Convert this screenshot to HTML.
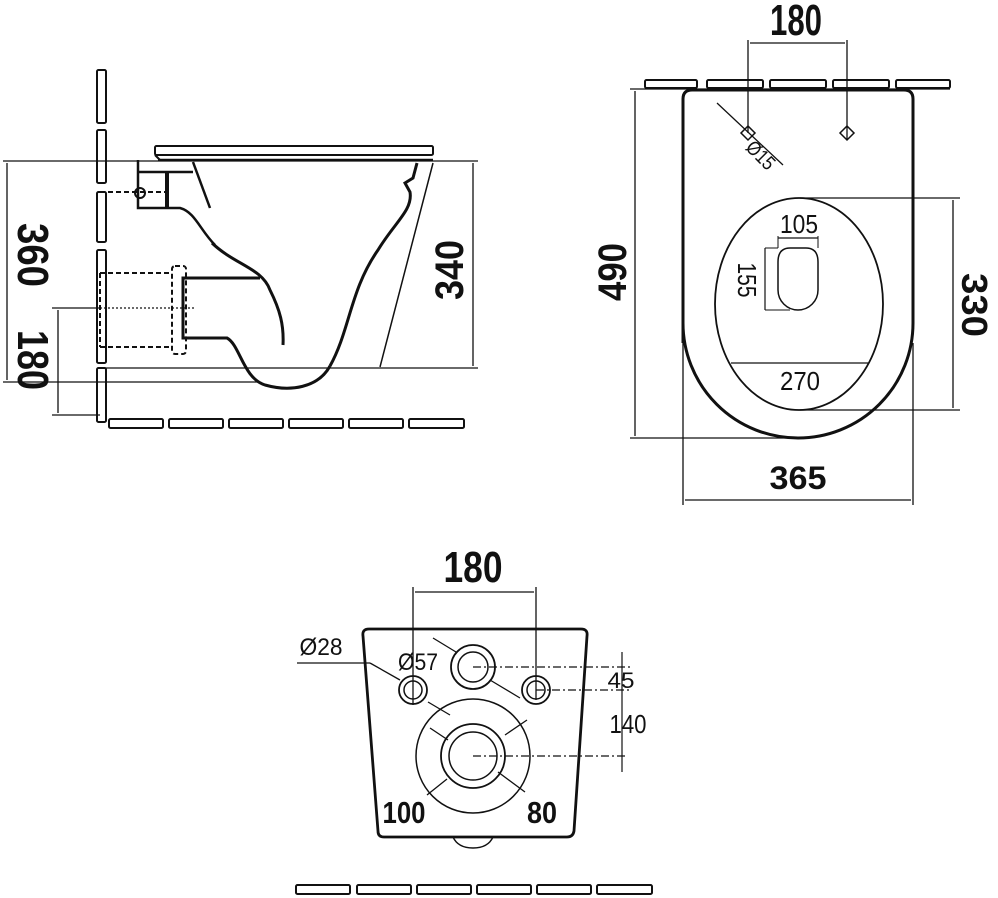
<!DOCTYPE html>
<html><head><meta charset="utf-8"><style>
html,body{margin:0;padding:0;background:#fff;}
svg{display:block}
text{font-family:"Liberation Sans Narrow","Liberation Sans",sans-serif;fill:#111;}
</style></head><body>
<svg width="998" height="898" viewBox="0 0 998 898" xmlns="http://www.w3.org/2000/svg">
<g fill="none" stroke="#111" stroke-width="2">
<!-- LEFT VIEW -->
<!-- wall segments -->
<rect x="97" y="70" width="9" height="53" rx="1.5"/>
<rect x="97" y="130" width="9" height="53" rx="1.5"/>
<rect x="97" y="192" width="9" height="50" rx="1.5"/>
<rect x="97" y="250" width="9" height="113" rx="1.5"/>
<rect x="97" y="368" width="9" height="54" rx="1.5"/>
<!-- floor bricks -->
<rect x="109" y="419" width="54" height="9" rx="1.5"/>
<rect x="169" y="419" width="54" height="9" rx="1.5"/>
<rect x="229" y="419" width="54" height="9" rx="1.5"/>
<rect x="289" y="419" width="54" height="9" rx="1.5"/>
<rect x="349" y="419" width="54" height="9" rx="1.5"/>
<rect x="409" y="419" width="55" height="9" rx="1.5"/>
<!-- seat -->
<rect x="155" y="146" width="278" height="9" rx="1.5"/>
<line x1="158" y1="160" x2="433" y2="160" stroke-width="2.5"/>
<line x1="155" y1="155" x2="160" y2="160"/>
<!-- dimension lines -->
<line x1="3" y1="161" x2="478" y2="161" stroke-width="1.3"/>
<line x1="100" y1="368" x2="478" y2="368" stroke-width="1.3"/>
<line x1="3" y1="382" x2="258" y2="382" stroke-width="1.3"/>
<line x1="7" y1="163" x2="7" y2="380" stroke-width="1.3"/>
<line x1="473" y1="163" x2="473" y2="366" stroke-width="1.3"/>
<line x1="52" y1="308" x2="100" y2="308" stroke-width="1.3"/>
<line x1="52" y1="415" x2="100" y2="415" stroke-width="1.3"/>
<line x1="58" y1="310" x2="58" y2="413" stroke-width="1.3"/>
<line x1="100" y1="308" x2="195" y2="308" stroke-width="1.3" stroke-dasharray="2 2"/>
<!-- top piece -->
<path d="M138 160 V208 H180 C195 212 200 230 215 245" stroke-width="2.5"/>
<line x1="138" y1="172" x2="193" y2="172" stroke-width="2.5"/>
<line x1="167" y1="172" x2="167" y2="208" stroke-width="4"/>
<line x1="193" y1="162" x2="210" y2="208" stroke-width="2.5"/>
<line x1="100" y1="192" x2="165" y2="192" stroke-dasharray="5 3"/>
<circle cx="140" cy="193" r="5"/>
<!-- S curve -->
<path d="M212 243 C235 265 262 268 270 290 C280 310 284 325 283 345" stroke-width="3"/>
<!-- outlet -->
<path d="M260 278 H183 V338 H227 C240 345 243 378 265 385 C290 392 318 388 330 366" stroke-width="3"/>
<path d="M330 366 C350 330 350 290 378 250 C395 222 413 210 410 192 L405 183 L413 178 L417 163" stroke-width="3"/>
<line x1="433" y1="163" x2="380" y2="367" stroke-width="1.5"/>
<!-- dashed -->
<path d="M100 273 H172 M100 347 H172 M100 273 V347" stroke-dasharray="5 3"/>
<rect x="172" y="266" width="14" height="88" rx="3" stroke-dasharray="5 3"/>
<!-- TOP VIEW -->
<rect x="645" y="80" width="52" height="8" rx="1.5"/>
<rect x="707" y="80" width="56" height="8" rx="1.5"/>
<rect x="770" y="80" width="56" height="8" rx="1.5"/>
<rect x="833" y="80" width="56" height="8" rx="1.5"/>
<rect x="896" y="80" width="54" height="8" rx="1.5"/>
<line x1="630" y1="89" x2="950" y2="89" stroke-width="1.3"/>
<path d="M683 343 V99 Q683 90 692 90 H904 Q913 90 913 99 V323 A115 115 0 0 1 683 323" stroke-width="3"/>
<line x1="635" y1="91" x2="635" y2="436" stroke-width="1.3"/>
<line x1="630" y1="438" x2="800" y2="438" stroke-width="1.3"/>
<line x1="683" y1="343" x2="683" y2="505" stroke-width="1.3"/>
<line x1="913" y1="343" x2="913" y2="505" stroke-width="1.3"/>
<line x1="685" y1="500" x2="911" y2="500" stroke-width="1.3"/>
<line x1="748" y1="40" x2="748" y2="133" stroke-width="1.3"/>
<line x1="847" y1="40" x2="847" y2="140" stroke-width="1.3"/>
<line x1="750" y1="43" x2="845" y2="43" stroke-width="1.3"/>
<path d="M748 126 L755 133 L748 140 L741 133 Z M847 126 L854 133 L847 140 L840 133 Z" stroke-width="1.5"/>
<line x1="717" y1="103" x2="783" y2="165" stroke-width="1.3"/>
<ellipse cx="799" cy="304" rx="84" ry="106" stroke-width="1.8"/>
<line x1="800" y1="198" x2="960" y2="198" stroke-width="1.3"/>
<line x1="800" y1="410" x2="960" y2="410" stroke-width="1.3"/>
<line x1="953" y1="200" x2="953" y2="408" stroke-width="1.3"/>
<path d="M778 262 Q778 248 790 248 H806 Q818 248 818 262 V290 A20 20 0 0 1 778 290 Z" stroke-width="1.5"/>
<line x1="778" y1="238" x2="818" y2="238" stroke-width="1.2"/>
<line x1="778" y1="236" x2="778" y2="248" stroke-width="1"/>
<line x1="818" y1="236" x2="818" y2="248" stroke-width="1"/>
<line x1="765" y1="248" x2="765" y2="310" stroke-width="1.2"/>
<line x1="765" y1="248" x2="778" y2="248" stroke-width="1"/>
<line x1="765" y1="310" x2="790" y2="310" stroke-width="1"/>
<line x1="731" y1="363" x2="868" y2="363" stroke-width="1.3"/>
<!-- BOTTOM VIEW -->
<path d="M369 629 H581 Q588 629 587 636 L574 831 Q573 837 567 837 H384 Q378 837 378 831 L363 636 Q362 629 369 629 Z" stroke-width="2.8"/>
<path d="M453 837 Q458 848 473 848 Q488 848 493 837" stroke-width="1.5"/>
<rect x="296" y="885" width="54" height="9" rx="1.5"/>
<rect x="357" y="885" width="54" height="9" rx="1.5"/>
<rect x="417" y="885" width="54" height="9" rx="1.5"/>
<rect x="477" y="885" width="54" height="9" rx="1.5"/>
<rect x="537" y="885" width="54" height="9" rx="1.5"/>
<rect x="597" y="885" width="55" height="9" rx="1.5"/>
<line x1="413" y1="587" x2="413" y2="705" stroke-width="1.3"/>
<line x1="536" y1="587" x2="536" y2="700" stroke-width="1.3"/>
<line x1="415" y1="592" x2="534" y2="592" stroke-width="1.3"/>
<circle cx="413" cy="690" r="14" stroke-width="1.8"/><circle cx="413" cy="690" r="9" stroke-width="1.5"/>
<circle cx="536" cy="690" r="14" stroke-width="1.8"/><circle cx="536" cy="690" r="9" stroke-width="1.5"/>
<circle cx="473" cy="667" r="22" stroke-width="1.8"/><circle cx="473" cy="667" r="15" stroke-width="1.5"/>
<circle cx="473" cy="756" r="57" stroke-width="1.5"/>
<circle cx="473" cy="756" r="32" stroke-width="1.8"/><circle cx="473" cy="756" r="24" stroke-width="1.5"/>
<g stroke-width="1.2" stroke-dasharray="8 3 2 3">
<line x1="473" y1="667" x2="630" y2="667"/>
<line x1="536" y1="690" x2="630" y2="690"/>
<line x1="473" y1="756" x2="625" y2="756"/>
</g>
<line x1="622" y1="652" x2="622" y2="772" stroke-width="1.2"/>
<line x1="297" y1="663" x2="370" y2="663" stroke-width="1.3"/>
<line x1="370" y1="663" x2="400" y2="680" stroke-width="1.3"/>
<line x1="433" y1="638" x2="456" y2="652" stroke-width="1.3"/>
<line x1="490" y1="680" x2="520" y2="698" stroke-width="1.3"/>
<line x1="428" y1="702" x2="450" y2="715" stroke-width="1.3"/>
<line x1="430" y1="728" x2="448" y2="740" stroke-width="1.3"/>
<line x1="498" y1="772" x2="525" y2="792" stroke-width="1.3"/>
<line x1="505" y1="735" x2="527" y2="720" stroke-width="1.3"/>
<line x1="427" y1="795" x2="447" y2="779" stroke-width="1.3"/>
</g>
<!-- TEXT -->
<g font-weight="bold">
<text transform="translate(18,255) rotate(90)" font-size="44" text-anchor="middle" textLength="64" lengthAdjust="spacingAndGlyphs">360</text>
<text transform="translate(18,360) rotate(90)" font-size="44" text-anchor="middle" textLength="60" lengthAdjust="spacingAndGlyphs">180</text>
<text transform="translate(463,270) rotate(-90)" font-size="40" text-anchor="middle" textLength="60" lengthAdjust="spacingAndGlyphs">340</text>
<text x="796" y="35" font-size="44" text-anchor="middle" textLength="52" lengthAdjust="spacingAndGlyphs">180</text>
<text transform="translate(626,272) rotate(-90)" font-size="40" text-anchor="middle" textLength="58" lengthAdjust="spacingAndGlyphs">490</text>
<text transform="translate(962,305) rotate(90)" font-size="36" text-anchor="middle" textLength="64" lengthAdjust="spacingAndGlyphs">330</text>
<text x="798" y="489" font-size="32" text-anchor="middle" textLength="57" lengthAdjust="spacingAndGlyphs">365</text>
<text x="799" y="233" font-size="26" text-anchor="middle" textLength="38" lengthAdjust="spacingAndGlyphs" font-weight="normal">105</text>
<text transform="translate(738,280) rotate(90)" font-size="26" text-anchor="middle" textLength="35" lengthAdjust="spacingAndGlyphs" font-weight="normal">155</text>
<text x="800" y="390" font-size="26" text-anchor="middle" textLength="40" lengthAdjust="spacingAndGlyphs" font-weight="normal">270</text>
<text transform="translate(756,160) rotate(45)" font-size="20" text-anchor="middle" textLength="32" lengthAdjust="spacingAndGlyphs" font-weight="normal">Ø15</text>
<text x="473" y="582" font-size="44" text-anchor="middle" textLength="59" lengthAdjust="spacingAndGlyphs">180</text>
<text x="321" y="655" font-size="24" text-anchor="middle" textLength="43" lengthAdjust="spacingAndGlyphs" font-weight="normal">Ø28</text>
<text x="418" y="670" font-size="24" text-anchor="middle" textLength="40" lengthAdjust="spacingAndGlyphs" font-weight="normal">Ø57</text>
<text x="621" y="688" font-size="22" text-anchor="middle" textLength="27" lengthAdjust="spacingAndGlyphs" font-weight="normal">45</text>
<text x="628" y="733" font-size="26" text-anchor="middle" textLength="37" lengthAdjust="spacingAndGlyphs" font-weight="normal">140</text>
<text x="404" y="823" font-size="31" text-anchor="middle" textLength="43" lengthAdjust="spacingAndGlyphs">100</text>
<text x="542" y="823" font-size="31" text-anchor="middle" textLength="30" lengthAdjust="spacingAndGlyphs">80</text>
</g>
</svg>
</body></html>
